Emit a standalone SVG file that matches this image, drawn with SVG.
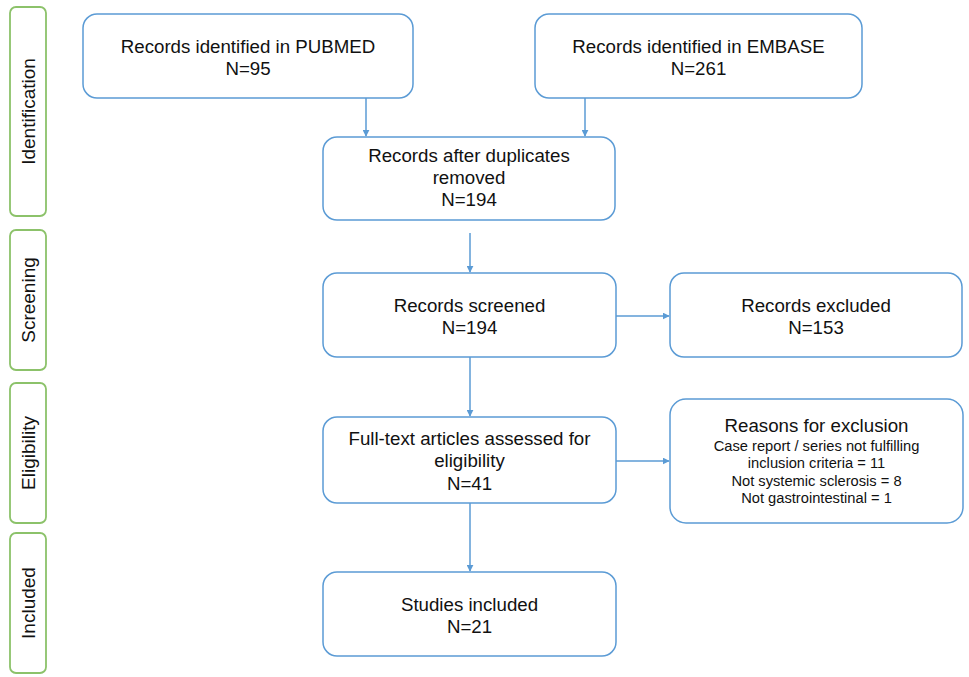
<svg xmlns="http://www.w3.org/2000/svg" width="969" height="677" viewBox="0 0 969 677">
<defs>
<style>
.node{fill:#fff;stroke:#5b9bd5;stroke-width:1.5}
.phase{fill:#fff;stroke:#8cc26a;stroke-width:1.8}
.t{font-family:"Liberation Sans",Arial,sans-serif;font-size:18.7px;fill:#111;text-anchor:middle}
.s{font-family:"Liberation Sans",Arial,sans-serif;font-size:14.7px;fill:#111;text-anchor:middle}
.p{font-family:"Liberation Sans",Arial,sans-serif;font-size:19px;fill:#111;text-anchor:middle}
.c{stroke:#5b9bd5;stroke-width:1.5;fill:none;marker-end:url(#ah)}
</style>
<marker id="ah" viewBox="0 0 10 10" refX="9" refY="5" markerWidth="7" markerHeight="7" markerUnits="userSpaceOnUse" orient="auto">
<path d="M0,0 L10,5 L0,10 z" fill="#5b9bd5"/>
</marker>
</defs>
<rect width="969" height="677" fill="#fff"/>

<g id="phase-identification"><rect class="phase" x="10" y="7" width="36" height="209" rx="6"/><text class="p" transform="translate(35,111.5) rotate(-90)">Identification</text></g>
<g id="phase-screening"><rect class="phase" x="10" y="230" width="36" height="140" rx="6"/><text class="p" transform="translate(35,300) rotate(-90)">Screening</text></g>
<g id="phase-eligibility"><rect class="phase" x="10" y="383" width="36" height="140" rx="6"/><text class="p" transform="translate(35,453) rotate(-90)">Eligibility</text></g>
<g id="phase-included"><rect class="phase" x="10" y="533" width="36" height="140" rx="6"/><text class="p" transform="translate(35,603) rotate(-90)">Included</text></g>

<g id="connectors">
<line class="c" x1="366" y1="98" x2="366" y2="136"/>
<line class="c" x1="585" y1="98" x2="585" y2="136"/>
<line class="c" x1="470" y1="233" x2="470" y2="272"/>
<line class="c" x1="616" y1="316" x2="669" y2="316"/>
<line class="c" x1="470" y1="357" x2="470" y2="416"/>
<line class="c" x1="616" y1="461" x2="669" y2="461"/>
<line class="c" x1="470" y1="503" x2="470" y2="571"/>
</g>

<g id="pubmed"><rect class="node" x="83" y="14" width="330" height="84" rx="14"/><text class="t" x="248" y="53">Records identified in PUBMED</text><text class="t" x="248" y="75">N=95</text></g>
<g id="embase"><rect class="node" x="535" y="14" width="327" height="84" rx="14"/><text class="t" x="698.5" y="53">Records identified in EMBASE</text><text class="t" x="698.5" y="75">N=261</text></g>
<g id="duplicates"><rect class="node" x="323" y="137" width="292" height="83" rx="14"/><text class="t" x="469" y="162">Records after duplicates</text><text class="t" x="469" y="184">removed</text><text class="t" x="469" y="206">N=194</text></g>
<g id="screened"><rect class="node" x="323" y="273" width="293" height="84" rx="14"/><text class="t" x="469.5" y="312">Records screened</text><text class="t" x="469.5" y="334">N=194</text></g>
<g id="excluded"><rect class="node" x="670" y="273" width="292" height="84" rx="14"/><text class="t" x="816" y="312">Records excluded</text><text class="t" x="816" y="334">N=153</text></g>
<g id="fulltext"><rect class="node" x="323" y="417" width="293" height="86" rx="14"/><text class="t" x="469.5" y="445">Full-text articles assessed for</text><text class="t" x="469.5" y="467">eligibility</text><text class="t" x="469.5" y="490">N=41</text></g>
<g id="reasons"><rect class="node" x="670" y="399" width="293" height="124" rx="16"/><text class="t" x="816.5" y="432">Reasons for exclusion</text><text class="s" x="816.5" y="451">Case report / series not fulfilling</text><text class="s" x="816.5" y="468">inclusion criteria = 11</text><text class="s" x="816.5" y="486">Not systemic sclerosis = 8</text><text class="s" x="816.5" y="503">Not gastrointestinal = 1</text></g>
<g id="studies"><rect class="node" x="323" y="572" width="293" height="84" rx="14"/><text class="t" x="469.5" y="611">Studies included</text><text class="t" x="469.5" y="633">N=21</text></g>
</svg>
